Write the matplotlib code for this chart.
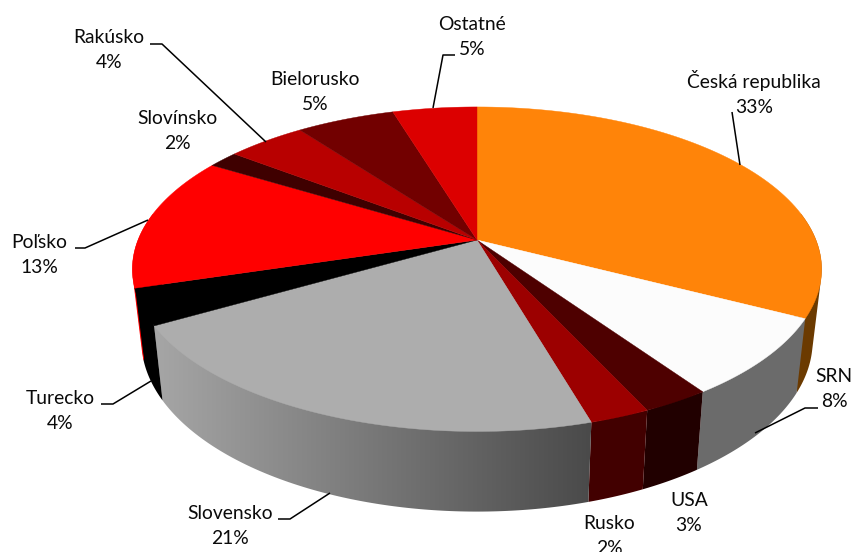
import numpy as np
import matplotlib
matplotlib.use("Agg")
import matplotlib.pyplot as plt
from matplotlib.colors import LinearSegmentedColormap
from matplotlib.patches import Polygon

categories = ["Česká republika", "SRN", "USA", "Rusko", "Slovensko", "Turecko",
              "Poľsko", "Slovínsko", "Rakúsko", "Bielorusko", "Ostatné"]
shares = [32.6, 7.8, 2.7, 2.4, 21.2, 3.6, 13.4, 1.7, 4.4, 5.5, 4.7]
share_labels = ["33%", "8%", "3%", "2%", "21%", "4%", "13%", "2%", "4%", "5%", "5%"]
top_colors = ["#FF8409", "#FCFCFC", "#4E0000", "#9C0000", "#ADADAD", "#000000",
              "#FF0000", "#3F0000", "#B80000", "#720000", "#DC0000"]
wall_left = ["#6B3A00", "#6B6B6B", "#210000", "#420000", "#A6A6A6", "#000000",
             "#FF0000", "#3F0000", "#B80000", "#720000", "#DC0000"]
wall_right = ["#6B3A00", "#6B6B6B", "#210000", "#420000", "#4A4A4A", "#000000",
              "#FF0000", "#3F0000", "#B80000", "#720000", "#DC0000"]

label_pos = [(754, 93), (834, 389), (689, 513), (609, 536), (230, 526), (60, 411),
             (39, 255), (177, 131), (109, 50), (315, 92), (472, 37)]
leaders = [
    [(740, 165), (732, 112)],
    [(755, 433), (805, 408), (818, 408)],
    None,
    None,
    [(330, 493), (290, 519), (278, 519)],
    [(151, 381), (113, 404), (101, 404)],
    [(148, 220), (85, 248), (75, 248)],
    None,
    [(266, 142), (162, 44), (150, 44)],
    None,
    [(433, 108), (443, 55), (455, 55)],
]

CX, CY, C, A, B = 477.0, 240.0, 339.0, 157.0, 0.18
WALL_FROM, WALL_TO = np.radians(80), np.radians(280)


def rim(theta):
    X, Y = np.sin(theta), np.cos(theta)
    w = 1 + B * Y
    return CX + C * X / w, CY - A * Y / w


def lower(x, y):
    return CX + 0.974 * (x - CX), 1.0536 * y + 57.0


def convex_hull(points):
    pts = sorted(map(tuple, points))

    def half(seq):
        out = []
        for p in seq:
            while len(out) >= 2 and ((out[-1][0] - out[-2][0]) * (p[1] - out[-2][1])
                                     - (out[-1][1] - out[-2][1]) * (p[0] - out[-2][0])) <= 0:
                out.pop()
            out.append(p)
        return out[:-1]

    return np.array(half(pts) + half(pts[::-1]))


def wall_outline(t0, t1):
    # area swept by the vertical wall between two angles; its hidden upper
    # chord always lies under the wedge's own top surface
    ts = np.linspace(t0, t1, 120)
    xs, ys = rim(ts)
    bx, by = lower(xs, ys)
    return convex_hull(np.c_[np.r_[xs, bx], np.r_[ys, by]])


fig = plt.figure(figsize=(8.53, 5.52), dpi=100)
ax = fig.add_axes([0, 0, 1, 1])
ax.set_xlim(0, 853)
ax.set_ylim(552, 0)
ax.axis("off")

edges = np.cumsum([0] + shares) / sum(shares) * 2 * np.pi

# side walls
for i in range(len(shares)):
    t0, t1 = max(edges[i], WALL_FROM), min(edges[i + 1], WALL_TO)
    if t1 <= t0:
        continue
    pts = wall_outline(t0, t1)
    if wall_left[i] == wall_right[i]:
        ax.add_patch(Polygon(pts, closed=True, fc=wall_left[i], ec="none", zorder=2))
    else:
        cmap = LinearSegmentedColormap.from_list("w", [wall_left[i], wall_right[i]])
        patch = Polygon(pts, closed=True, fc="none", ec="none", zorder=2)
        ax.add_patch(patch)
        xmin, xmax, ymin, ymax = pts[:, 0].min(), pts[:, 0].max(), pts[:, 1].min(), pts[:, 1].max()
        im = ax.imshow(np.linspace(0, 1, 256)[None, :], cmap=cmap, aspect="auto",
                       extent=(xmin, xmax, ymax, ymin), zorder=2, interpolation="bilinear")
        im.set_clip_path(patch)
    if categories[i] == "Poľsko":
        # the neighbouring black wall wraps round this corner, leaving a red sliver
        shaded = pts + np.array([1.0, 0.0])
        ax.add_patch(Polygon(shaded, closed=True, fc="#000000", ec="none", zorder=2))

ax.set_xlim(0, 853)
ax.set_ylim(552, 0)

# top surfaces
for i in range(len(shares)):
    ts = np.linspace(edges[i], edges[i + 1], 80)
    xs, ys = rim(ts)
    ax.fill(np.r_[CX, xs], np.r_[CY, ys], color=top_colors[i], lw=0.3, zorder=3)

# labels and leader lines
for name, pct, pos, lead in zip(categories, share_labels, label_pos, leaders):
    ax.text(pos[0], pos[1], f"{name}\n{pct}", ha="center", va="center",
            family="Lato", fontsize=13.9, color="#0A0A0A", linespacing=1.55, zorder=5)
    if lead:
        lx, ly = zip(*lead)
        ax.plot(lx, ly, color="black", lw=1.1, zorder=4, solid_capstyle="butt")

fig.savefig("out.png", dpi=100)
